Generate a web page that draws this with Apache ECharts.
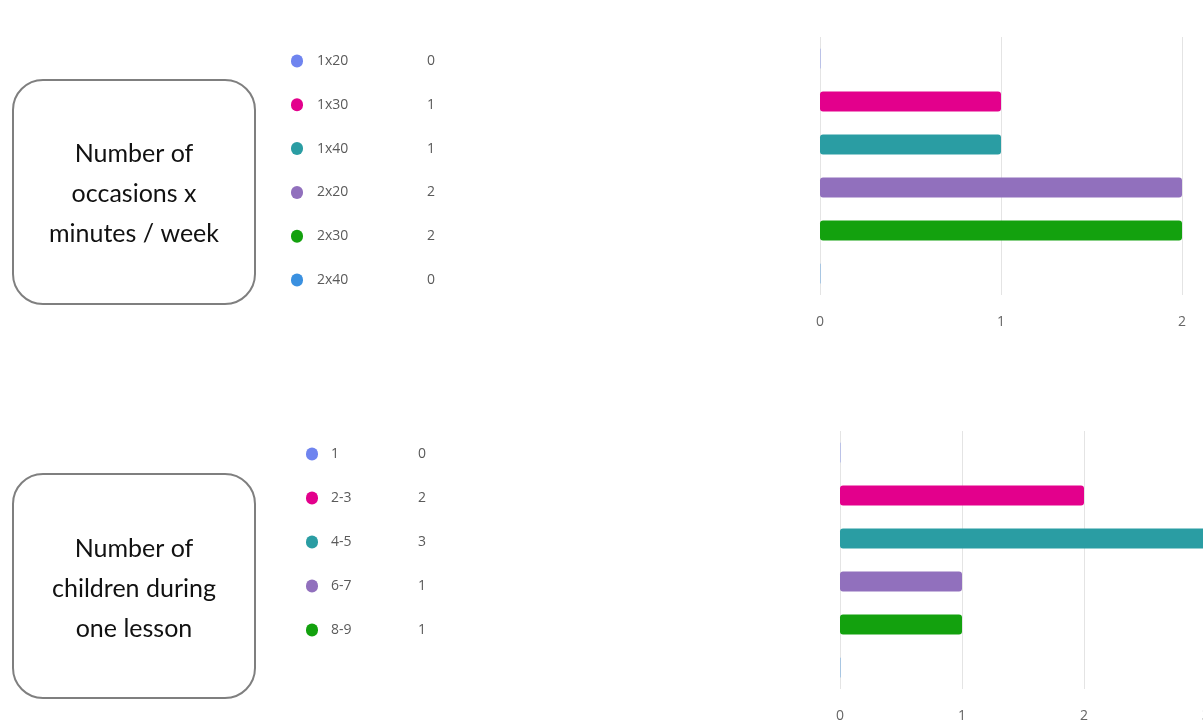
<!DOCTYPE html>
<html>
<head>
<meta charset="utf-8">
<script src="https://cdn.jsdelivr.net/npm/echarts@6/dist/echarts.min.js"></script>
<style>
html,body{margin:0;padding:0;background:#fff;}
#chart{width:1203px;height:726px;}
</style>
</head>
<body>
<div id="chart"></div>
<script>
// ---- data ----
const topTitle = ['Number of', 'occasions x', 'minutes / week'];
const topCategories = ['1x20', '1x30', '1x40', '2x20', '2x30', '2x40'];
const topValues = [0, 1, 1, 2, 2, 0];
const topTicks = [0, 1, 2];

const bottomTitle = ['Number of', 'children during', 'one lesson'];
const bottomCategories = ['1', '2-3', '4-5', '6-7', '8-9', ''];
const bottomValues = [0, 2, 3, 1, 1, 0];
const bottomTicks = [0, 1, 2, 3];

const palette = ['#6f84ef', '#e3008c', '#2a9da3', '#9170bd', '#13a10e', '#3a90e0'];

// ---- build ----
const FONT = '"Open Sans", "Noto Sans", sans-serif';

function richFor(nameWidth, gap) {
  const r = {
    s: { width: gap },
    n: { width: nameWidth, color: '#5a5a5a', fontSize: 14, fontFamily: FONT },
    v: { width: 20, align: 'center', color: '#5a5a5a', fontSize: 14, fontFamily: FONT }
  };
  palette.forEach((c, i) => {
    r['d' + i] = { width: 12, height: 13, borderRadius: 6, backgroundColor: c };
  });
  return r;
}

function barData(values) {
  return values.map((v, i) => ({
    value: v,
    itemStyle: { color: palette[i], opacity: v === 0 ? 0.35 : 1, borderRadius: 3 }
  }));
}

function labelFormatter(cats, vals) {
  return function (val, idx) {
    if (!cats[idx]) return '';
    return '{d' + idx + '|}{s|}{n|' + cats[idx] + '}{v|' + vals[idx] + '}';
  };
}

function boxGraphics(x, y, w, h, lines, lineY0) {
  const g = [{
    type: 'rect',
    shape: { x: x, y: y, width: w, height: h, r: 30 },
    style: { fill: '#fff', stroke: '#7f7f7f', lineWidth: 2 }
  }];
  lines.forEach((t, i) => {
    g.push({
      type: 'text',
      x: x + w / 2,
      y: lineY0 + i * 40,
      style: {
        text: t, fill: '#111', fontSize: 25, fontFamily: 'Lato, "Open Sans", sans-serif',
        textAlign: 'center', textVerticalAlign: 'middle'
      }
    });
  });
  return g;
}

const axisLabelX = { color: '#666', fontSize: 14, fontFamily: FONT, margin: 20 };
const splitLine = { show: true, lineStyle: { color: '#e4e4e4', width: 1 } };
const hiddenX = { type: 'value', show: false, min: 0, max: 1 };

const option = {
  backgroundColor: '#ffffff',
  animation: false,
  grid: [
    { left: 820, width: 362, top: 37, height: 258, outerBoundsMode: 'none', containLabel: false },
    { left: 840, width: 366, top: 431, height: 258, outerBoundsMode: 'none', containLabel: false },
    // legend-list grids
    { left: 291, width: 200, top: 39, height: 263, outerBoundsMode: 'none' },
    { left: 306, width: 200, top: 432, height: 264, outerBoundsMode: 'none' }
  ],
  xAxis: [
    {
      gridIndex: 0, type: 'value', min: topTicks[0], max: topTicks[topTicks.length - 1], interval: 1,
      axisLine: { show: false }, axisTick: { show: false },
      axisLabel: axisLabelX, splitLine: splitLine
    },
    {
      gridIndex: 1, type: 'value', min: bottomTicks[0], max: bottomTicks[bottomTicks.length - 1], interval: 1,
      axisLine: { show: false }, axisTick: { show: false },
      axisLabel: axisLabelX, splitLine: splitLine
    },
    Object.assign({ gridIndex: 2 }, hiddenX),
    Object.assign({ gridIndex: 3 }, hiddenX)
  ],
  yAxis: [
    {
      gridIndex: 0, type: 'category', data: topCategories, inverse: true,
      axisLine: { show: false }, axisTick: { show: false }, axisLabel: { show: false }
    },
    {
      gridIndex: 1, type: 'category', data: bottomCategories, inverse: true,
      axisLine: { show: false }, axisTick: { show: false }, axisLabel: { show: false }
    },
    {
      gridIndex: 2, type: 'category', data: topCategories, inverse: true, position: 'right',
      axisLine: { show: false }, axisTick: { show: false },
      axisLabel: {
        align: 'left', margin: -200,
        formatter: labelFormatter(topCategories, topValues),
        rich: richFor(104, 14)
      }
    },
    {
      gridIndex: 3, type: 'category', data: bottomCategories, inverse: true, position: 'right',
      axisLine: { show: false }, axisTick: { show: false },
      axisLabel: {
        align: 'left', margin: -200,
        formatter: labelFormatter(bottomCategories, bottomValues),
        rich: richFor(81, 13)
      }
    }
  ],
  series: [
    {
      type: 'bar', xAxisIndex: 0, yAxisIndex: 0, barWidth: 20, barMinHeight: 1,
      data: barData(topValues)
    },
    {
      type: 'bar', xAxisIndex: 1, yAxisIndex: 1, barWidth: 20, barMinHeight: 1,
      data: barData(bottomValues)
    }
  ],
  graphic: [].concat(
    boxGraphics(13, 80, 242, 224, topTitle, 154),
    boxGraphics(13, 474, 242, 224, bottomTitle, 549)
  )
};

const chart = echarts.init(document.getElementById('chart'));
chart.setOption(option);
</script>
</body>
</html>
